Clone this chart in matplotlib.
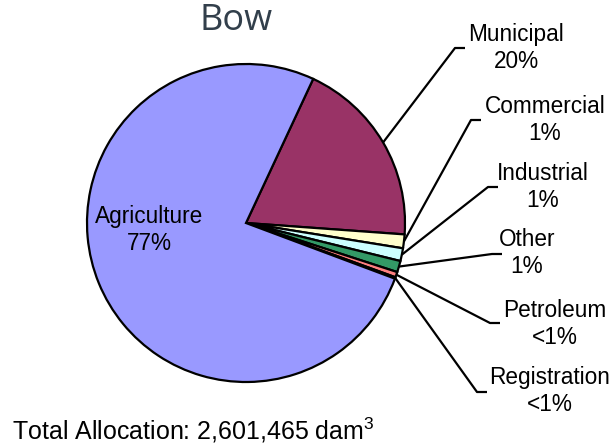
import numpy as np
import matplotlib
matplotlib.use("Agg")
import matplotlib.pyplot as plt

# Bow basin water allocation shares (%), clockwise from the top
categories = ["Municipal", "Commercial", "Industrial", "Other", "Petroleum", "Registration", "Agriculture"]
shares = [19.2, 1.4, 1.3, 1.15, 0.55, 0.15, 76.25]
pct_labels = ["20%", "1%", "1%", "1%", "<1%", "<1%", "77%"]
colors = ["#993366", "#FFFFCC", "#CCFFFF", "#339966", "#FF8080", "#0066CC", "#9999FF"]
total_text = "Total Allocation: 2,601,465 dam$^3$"

plt.rcParams["font.family"] = ["Liberation Sans", "DejaVu Sans"]
plt.rcParams["mathtext.fontset"] = "custom"
plt.rcParams["mathtext.rm"] = "Liberation Sans"
plt.rcParams["mathtext.it"] = "Liberation Sans"

W, H = 615, 445
fig = plt.figure(figsize=(W / 100, H / 100), dpi=100)
ax = fig.add_axes([0, 0, 1, 1])

cx, cy, r = 246, H - 223, 159
wedges, _ = ax.pie(shares, colors=colors, startangle=65, counterclock=False,
                   center=(cx, cy), radius=r, frame=True,
                   wedgeprops=dict(edgecolor="black", linewidth=1.6))
ax.set_xlim(0, W)
ax.set_ylim(0, H)
ax.axis("off")

# outside labels: (elbow x, elbow y, text x, text y) in pixels from top-left
label_pos = {
    "Municipal": (455, 48, 516, 48),
    "Commercial": (471, 120, 545, 120),
    "Industrial": (488, 187, 543, 187),
    "Other": (492, 254, 527, 253),
    "Petroleum": (490, 323, 555, 324),
    "Registration": (477, 392, 550, 391),
}

for w, name, pct in zip(wedges, categories, pct_labels):
    if name == "Agriculture":
        ax.text(149, H - 230, f"{name}\n{pct}", ha="center", va="center",
                fontsize=16.3, linespacing=1.22)
        continue
    mid = np.deg2rad((w.theta1 + w.theta2) / 2)
    x0, y0 = cx + r * np.cos(mid), cy + r * np.sin(mid)
    ex, ey, tx, ty = label_pos[name]
    ax.plot([x0, ex, ex + 10], [y0, H - ey, H - ey], color="black", lw=1.6,
            solid_capstyle="butt", zorder=0)
    ax.text(tx, H - ty, f"{name}\n{pct}", ha="center", va="center",
            fontsize=16.3, linespacing=1.22)

ax.text(236, H - 21, "Bow", ha="center", va="center", fontsize=26,
        family=["Open Sans", "DejaVu Sans"], color="#323F4B")
ax.text(12, H - 430, total_text, ha="left", va="center", fontsize=18)

fig.savefig("out.png", dpi=100)
